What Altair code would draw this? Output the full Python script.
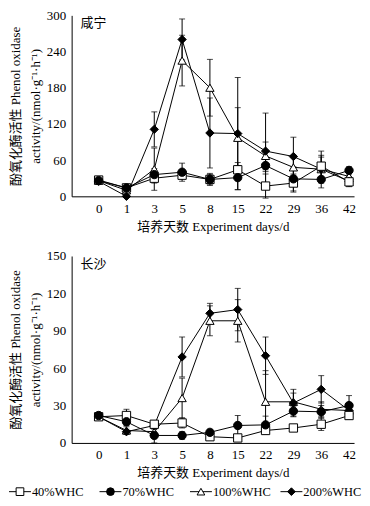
import json
import altair as alt
import pandas as pd

days = ["0", "1", "3", "5", "8", "15", "22", "29", "36", "42"]
series = ["40%WHC", "70%WHC", "100%WHC", "200%WHC"]
shapes = ["square", "circle", "triangle-up", "diamond"]
fills = ["white", "black", "white", "black"]

# 咸宁 panel
xn_40 = [27, 14, 30, 35, 28, 44, 17, 22, 50, 24]
xn_40_err = [5, 3, 8, 5, 8, 12, 20, 15, 25, 8]
xn_70 = [26, 14, 36, 40, 28, 31, 51, 29, 28, 43]
xn_70_err = [6, 3, 10, 15, 10, 20, 10, 20, 14, 6]
xn_100 = [26, 10, 45, 225, 180, 97, 67, 48, 45, 33]
xn_100_err = [5, 3, 35, 42, 47, 50, 23, 20, 20, 8]
xn_200 = [25, 0, 111, 260, 105, 104, 75, 66, 45, 25]
xn_200_err = [5, 2, 29, 34, 58, 93, 63, 32, 23, 8]

# 长沙 panel
cs_40 = [21, 22, 15, 16, 5, 4, 10, 12, 15, 22]
cs_40_err = [2, 5, 3, 4, 2, 2, 3, 2, 5, 3]
cs_70 = [22, 17, 6, 6, 8.5, 14, 14.5, 25.5, 25, 30]
cs_70_err = [2, 3, 6, 3, 2, 8, 7, 4, 5, 8]
cs_100 = [21, 10, 9, 36, 98, 98, 33, 33, 27, 26]
cs_100_err = [2, 3, 5, 16, 12, 17, 25, 7, 6, 4]
cs_200 = [21, 9, 14, 69, 104, 107, 70, 32, 43, 26]
cs_200_err = [2, 2, 3, 16, 8, 17, 15, 11, 11, 4]

FONT = "Liberation Serif, Noto Sans CJK SC"
CJK = "Noto Sans CJK SC, Liberation Serif"


def frame(means, errs):
    rows = []
    for s, m, e in zip(series, means, errs):
        for i, (v, ev) in enumerate(zip(m, e)):
            rows.append({"series": s, "i": i, "day": days[i], "v": v,
                         "lo": v - ev, "hi": v + ev})
    return pd.DataFrame(rows)


label_expr = json.dumps(days) + "[datum.value]"
shape_scale = alt.Scale(domain=series, range=shapes)
fill_scale = alt.Scale(domain=series, range=fills)


def panel(df, name, ymax, ystep, h):
    x = alt.X("i:Q", scale=alt.Scale(domain=[-0.97, 9.18], nice=False, zero=False),
              axis=alt.Axis(values=list(range(10)), labelExpr=label_expr,
                            title="培养天数 Experiment days/d", grid=False,
                            tickSize=0, labelPadding=6, titlePadding=5,
                            labelOverlap=False))
    yax = alt.Axis(values=list(range(0, ymax + 1, ystep)), grid=False,
                   title=["酚氧化酶活性 Phenol oxidase", "activity/(nmol·g⁻¹·h⁻¹)"],
                   tickSize=0, labelPadding=6, titlePadding=4, titleLineHeight=20,
                   labelOverlap=False)
    yscale = alt.Scale(domain=[0, ymax], nice=False)
    base = alt.Chart(df).encode(x=x)
    lines = base.mark_line(color="black", strokeWidth=1).encode(
        y=alt.Y("v:Q", scale=yscale, axis=yax), detail="series:N")
    bars = base.mark_rule(color="black", strokeWidth=1).encode(
        y=alt.Y("lo:Q", axis=yax), y2="hi:Q")
    cap_hi = base.mark_tick(color="black", thickness=1, size=6, orient="horizontal").encode(
        y=alt.Y("hi:Q", axis=yax))
    cap_lo = base.mark_tick(color="black", thickness=1, size=6, orient="horizontal").encode(
        y=alt.Y("lo:Q", axis=yax))
    pts = base.mark_point(filled=True, size=70, stroke="black", strokeWidth=1, opacity=1).encode(
        y=alt.Y("v:Q", axis=yax),
        shape=alt.Shape("series:N", scale=shape_scale, legend=None),
        fill=alt.Fill("series:N", scale=fill_scale, legend=None),
        order=alt.Order("series:N"))
    lab = alt.Chart(pd.DataFrame({"t": [name]})).mark_text(
        font=CJK, fontSize=13, align="left", baseline="middle", color="black").encode(
        text="t:N", x=alt.value(9), y=alt.value(8))
    return alt.layer(lines, bars, cap_hi, cap_lo, pts, lab).properties(width=284, height=h)


top = panel(frame([xn_40, xn_70, xn_100, xn_200],
                  [xn_40_err, xn_70_err, xn_100_err, xn_200_err]), "咸宁", 300, 60, 182)
bottom = panel(frame([cs_40, cs_70, cs_100, cs_200],
                     [cs_40_err, cs_70_err, cs_100_err, cs_200_err]), "长沙", 150, 30, 188)

leg = pd.DataFrame({"series": series, "k": list(range(len(series)))})
lbase = alt.Chart(leg).transform_calculate(
    x0="datum.k", x1="datum.k + 0.242", xm="datum.k + 0.121")
# legend row starts left of the plot area, under the y-axis title
lx = alt.Scale(domain=[0.692, 3.813], nice=False, zero=False)
lline = lbase.mark_rule(color="black", strokeWidth=1).encode(
    x=alt.X("x0:Q", scale=lx, axis=None), x2="x1:Q", y=alt.value(6))
lpts = lbase.mark_point(filled=True, size=60, stroke="black", strokeWidth=1, opacity=1).encode(
    x=alt.X("xm:Q", scale=lx, axis=None), y=alt.value(6),
    shape=alt.Shape("series:N", scale=shape_scale, legend=None),
    fill=alt.Fill("series:N", scale=fill_scale, legend=None))
ltxt = lbase.mark_text(font=FONT, fontSize=12.5, align="left", baseline="middle", dx=1, color="black").encode(
    x=alt.X("x1:Q", scale=lx, axis=None), y=alt.value(6), text="series:N")
legend = alt.layer(lline, lpts, ltxt).properties(width=284, height=12)

chart = alt.vconcat(
    alt.vconcat(top, bottom, spacing=17), legend, spacing=6
).properties(padding=0).configure_view(
    stroke=None).configure_axis(
    domainColor="black", labelColor="black", titleColor="black",
    labelFont=FONT, titleFont=FONT, labelFontSize=13, titleFontSize=13,
    titleFontWeight="normal")

chart.save("out.html", embed_options={"renderer": "svg", "actions": False})
